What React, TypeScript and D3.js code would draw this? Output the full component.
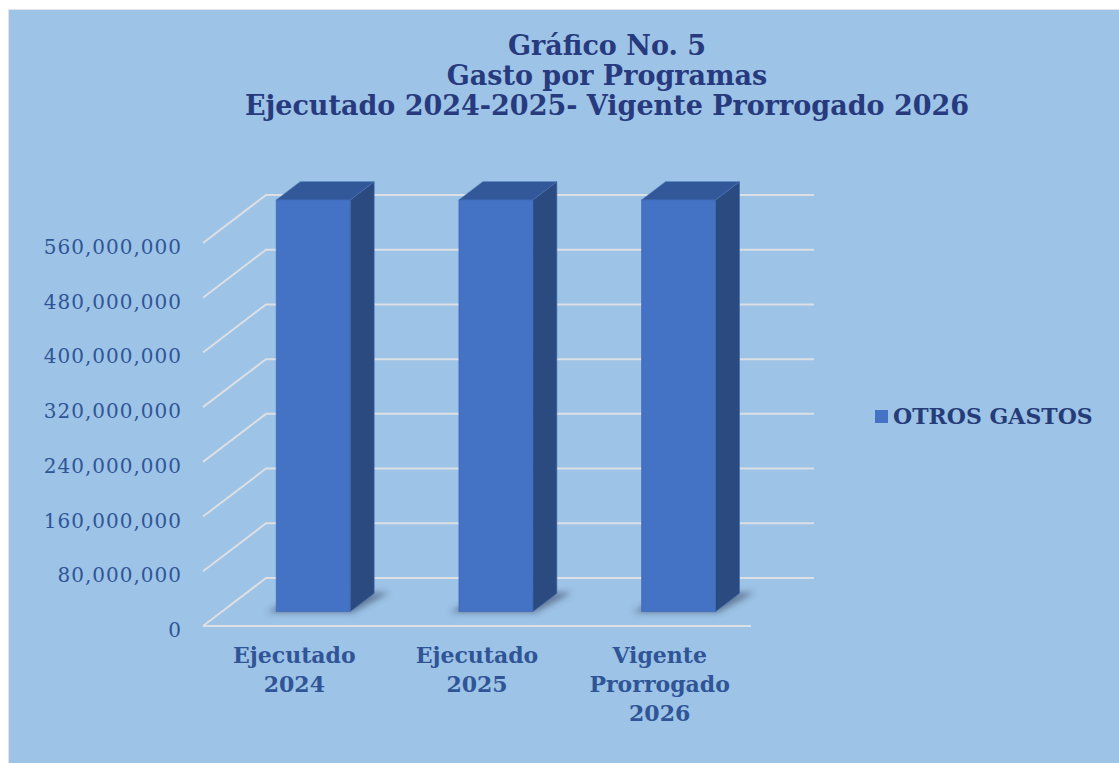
import React from "react";
import * as d3 from "d3";

const titleLines = ["Gráfico No. 5", "Gasto por Programas", "Ejecutado 2024-2025- Vigente Prorrogado 2026"];
const categories = ["Ejecutado 2024", "Ejecutado 2025", "Vigente Prorrogado 2026"];
const categoryLabelLines = [["Ejecutado", "2024"], ["Ejecutado", "2025"], ["Vigente", "Prorrogado", "2026"]];
const seriesName = "OTROS GASTOS";
const values = [602000000, 602000000, 602000000];
const yTicks = [0, 80000000, 160000000, 240000000, 320000000, 400000000, 480000000, 560000000];

const FONT = "'DejaVu Serif', Georgia, serif";
const X0 = 203;
const FLOOR_Y = 626;
const PLOT_W = 548;
const DX = 63;
const DY = -48;
const F1 = 0.3;
const F2 = 0.68;

export default function App() {
  const xBand = d3.scaleBand<string>().domain(categories).range([X0, X0 + PLOT_W]);
  const yScale = d3.scaleLinear().domain([0, 560000000]).range([0, 383]);
  const proj = (x: number, v: number, f: number): [number, number] => [x + DX * f, FLOOR_Y - yScale(v) + DY * f];
  const pts = (arr: [number, number][]) => arr.map((p) => p.join(",")).join(" ");
  const fmt = d3.format(",");
  const bw = xBand.bandwidth();
  const hw = (bw * 0.405) / 2;

  return (
    <>
      <style>{`body{margin:0;overflow:hidden;background:#fff}`}</style>
      <svg width={1119} height={763} style={{ display: "block" }}>
        <defs>
          <filter id="shadow" x="-50%" y="-50%" width="200%" height="200%">
            <feGaussianBlur stdDeviation="3" />
          </filter>
        </defs>
        <rect x={0} y={0} width={1119} height={763} fill="#ffffff" />
        <rect x={8} y={9} width={1111} height={754} fill="#e4e4e4" />
        <rect x={9} y={10} width={1110} height={753} fill="#9DC3E6" />

        {titleLines.map((t, i) => (
          <text key={i} x={607} y={55 + i * 30} textAnchor="middle" fontFamily={FONT} fontWeight="bold" fontSize={27} fill="#273A7E">
            {t}
          </text>
        ))}

        {/* gridlines */}
        {yTicks.map((v) => {
          const a = proj(X0, v, 0);
          const b = proj(X0, v, 1);
          const c = proj(X0 + PLOT_W, v, 1);
          return (
            <g key={v}>
              <polyline points={pts([a, b, c])} fill="none" stroke="#DCDFE4" strokeWidth={2} />
              {v === 0 && (
                <line x1={a[0]} y1={a[1]} x2={proj(X0 + PLOT_W, 0, 0)[0]} y2={a[1]} stroke="#DCDFE4" strokeWidth={2} />
              )}
              <text x={182} y={a[1] + 11} textAnchor="end" fontFamily={FONT} fontSize={20} letterSpacing={1} fill="#2F5597">
                {fmt(v)}
              </text>
            </g>
          );
        })}

        {/* bars */}
        {categories.map((cat, i) => {
          const c = (xBand(cat) as number) + bw / 2;
          const v = values[i];
          const l = c - hw;
          const r = c + hw;
          const shadow = pts([proj(l - 8, 0, F1 - 0.02), proj(r + 4, 0, F1 - 0.02), proj(r + 14, 0, F2 + 0.02), proj(l, 0, F2 + 0.02)]);
          const front = pts([proj(l, 0, F1), proj(r, 0, F1), proj(r, v, F1), proj(l, v, F1)]);
          const side = pts([proj(r, 0, F1), proj(r, 0, F2), proj(r, v, F2), proj(r, v, F1)]);
          const top = pts([proj(l, v, F1), proj(r, v, F1), proj(r, v, F2), proj(l, v, F2)]);
          return (
            <g key={cat}>
              <polygon points={shadow} fill="#2a3550" opacity={0.5} filter="url(#shadow)" />
              <polygon points={side} fill="#2A4A80" stroke="#3F66A8" strokeWidth={0.6} />
              <polygon points={top} fill="#325899" stroke="#4B74B8" strokeWidth={0.6} />
              <polygon points={front} fill="#4472C4" stroke="#3A64AE" strokeWidth={0.6} />
            </g>
          );
        })}

        {/* category labels */}
        {categories.map((cat, i) => {
          const c = (xBand(cat) as number) + bw / 2;
          return (
            <text key={cat} textAnchor="middle" fontFamily={FONT} fontWeight="bold" fontSize={22} fill="#2F5597">
              {categoryLabelLines[i].map((ln, j) => (
                <tspan key={j} x={c} y={663 + j * 29}>
                  {ln}
                </tspan>
              ))}
            </text>
          );
        })}

        {/* legend */}
        <rect x={875} y={410} width={13} height={13} fill="#4472C4" />
        <text x={893} y={424} fontFamily={FONT} fontWeight="bold" fontSize={22} fill="#263C78">
          {seriesName}
        </text>
      </svg>
    </>
  );
}
